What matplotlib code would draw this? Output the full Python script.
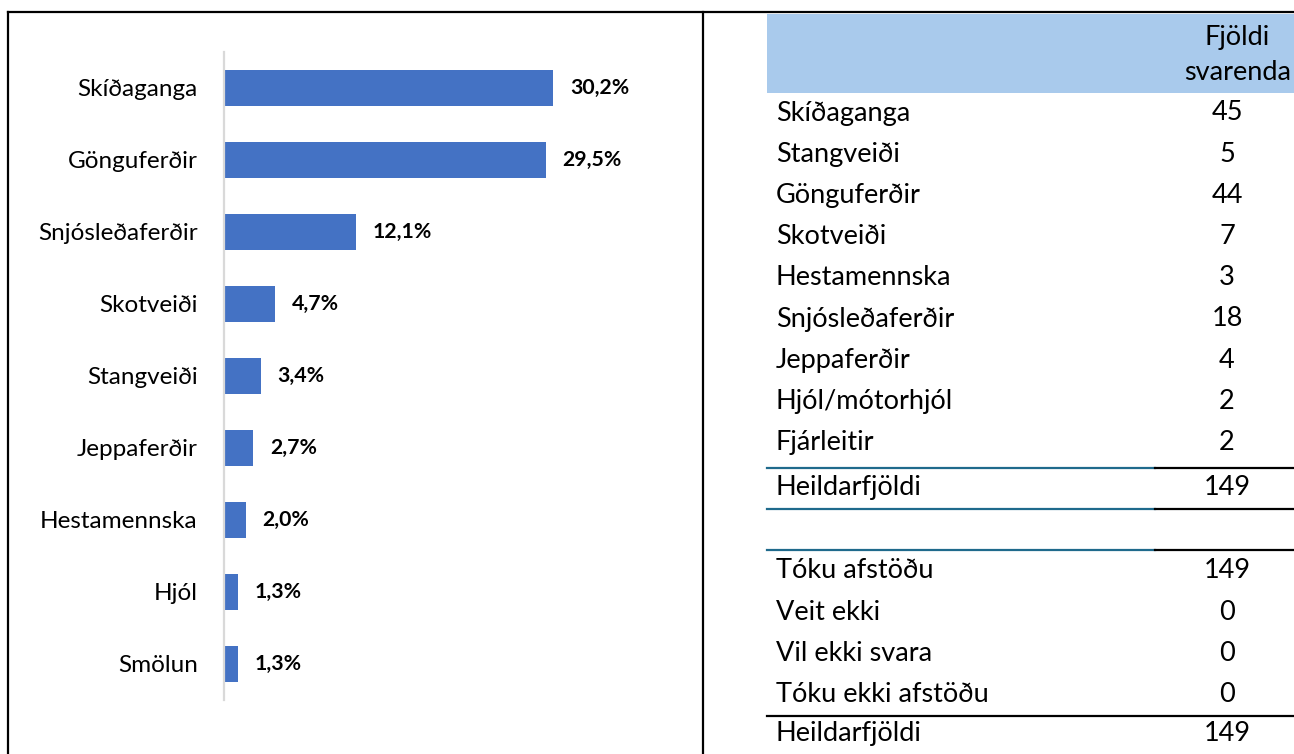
import matplotlib.pyplot as plt
import matplotlib as mpl
from matplotlib.patches import Rectangle
from matplotlib.lines import Line2D

# --- chart data
categories = ['Skíðaganga', 'Gönguferðir', 'Snjósleðaferðir', 'Skotveiði',
              'Stangveiði', 'Jeppaferðir', 'Hestamennska', 'Hjól', 'Smölun']
percents = [30.2, 29.5, 12.1, 4.7, 3.4, 2.7, 2.0, 1.3, 1.3]

# --- table data
table_labels = ['Skíðaganga', 'Stangveiði', 'Gönguferðir', 'Skotveiði', 'Hestamennska',
                'Snjósleðaferðir', 'Jeppaferðir', 'Hjól/mótorhjól', 'Fjárleitir']
table_counts = [45, 5, 44, 7, 3, 18, 4, 2, 2]
total_label = 'Heildarfjöldi'
total_count = 149
status_labels = ['Tóku afstöðu', 'Veit ekki', 'Vil ekki svara', 'Tóku ekki afstöðu']
status_counts = [149, 0, 0, 0]
header = 'Fjöldi\nsvarenda'

W, H = 1294, 754
plt.rcParams['font.family'] = ['Lato', 'DejaVu Sans']
fig = plt.figure(figsize=(W / 100, H / 100), dpi=100)

# === overlay axes in pixel units (borders + table)
ov = fig.add_axes([0, 0, 1, 1])
ov.set_xlim(0, W)
ov.set_ylim(H, 0)
ov.axis('off')

# --- outer boxes
ov.add_line(Line2D([8, 8], [12, H], color='black', lw=1.6))
ov.add_line(Line2D([8, W], [12, 12], color='black', lw=1.6))
ov.add_line(Line2D([703, 703], [12, H], color='black', lw=1.6))

# --- table
tx0, tsplit, tx1 = 767, 1155, W
lab_x, num_x = 776, 1227
row_h = 41.2
fs_tab = 19.5
ov.add_patch(Rectangle((tx0, 14), tx1 - tx0, 79, color='#A9CAEC', lw=0))
ov.text(1291, 55, header, ha='right', va='center', fontsize=fs_tab,
        multialignment='center', linespacing=1.45)

y0 = 113
for i, (lab, cnt) in enumerate(zip(table_labels, table_counts)):
    y = y0 + i * row_h
    ov.text(lab_x, y, lab, ha='left', va='center', fontsize=fs_tab)
    ov.text(num_x, y, str(cnt), ha='center', va='center', fontsize=fs_tab)

teal = '#1F6A8C'


def hline(y, split=True):
    if split:
        ov.add_line(Line2D([tx0, tsplit], [y, y], color=teal, lw=1.6))
        ov.add_line(Line2D([tsplit, tx1], [y, y], color='black', lw=1.6))
    else:
        ov.add_line(Line2D([tx0, tx1], [y, y], color='black', lw=1.6))


y_tot = y0 + len(table_labels) * row_h + 4
hline(y_tot - 20)
ov.text(lab_x, y_tot, total_label, ha='left', va='center', fontsize=fs_tab)
ov.text(num_x, y_tot, str(total_count), ha='center', va='center', fontsize=fs_tab)
hline(y_tot + 21)

y_st = 571
hline(y_st - 21)
for i, (lab, cnt) in enumerate(zip(status_labels, status_counts)):
    y = y_st + i * row_h
    ov.text(lab_x, y, lab, ha='left', va='center', fontsize=fs_tab)
    ov.text(num_x, y, str(cnt), ha='center', va='center', fontsize=fs_tab)
y_last = y_st + len(status_labels) * row_h - 2
hline(y_last - 18, split=False)
ov.text(lab_x, y_last, total_label, ha='left', va='center', fontsize=fs_tab)
ov.text(num_x, y_last, str(total_count), ha='center', va='center', fontsize=fs_tab)

# === bar chart
ax = fig.add_axes([224 / W, 1 - 700 / H, 436 / W, 648 / H])
ypos = list(range(len(categories)))
ax.barh(ypos, percents, height=0.49, color='#4472C4')
ax.set_xlim(0, 40)
ax.set_ylim(len(categories) - 0.5, -0.5)
ax.set_yticks(ypos)
ax.set_yticklabels(categories, fontsize=17.5)
ax.tick_params(axis='y', length=0, pad=19)
ax.set_xticks([])
for s in ['top', 'right', 'bottom']:
    ax.spines[s].set_visible(False)
ax.spines['left'].set_color('#D9D9D9')
ax.spines['left'].set_linewidth(1.6)
ax.patch.set_alpha(0)
for y, v in zip(ypos, percents):
    ax.annotate(f'{v:.1f}%'.replace('.', ','), (v, y), xytext=(12, 0),
                textcoords='offset points', ha='left', va='center',
                fontsize=15.3, fontweight='bold')

fig.savefig('out.png', dpi=100)
